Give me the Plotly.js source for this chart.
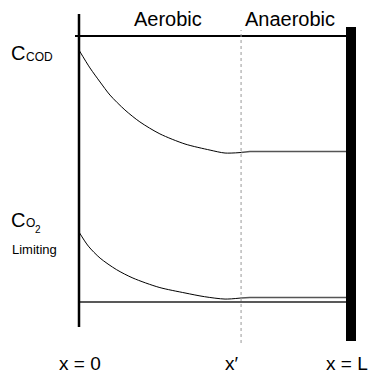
<!DOCTYPE html>
<html>
<head>
<meta charset="utf-8">
<script src="https://cdn.plot.ly/plotly-3.0.1.min.js"></script>
<style>html,body{margin:0;padding:0;background:#fff;}#chart{width:370px;height:373px;}</style>
</head>
<body>
<div id="chart"></div>
<script>
// Position along the column (0 = inlet, 1 = L) and normalised concentrations
const xPrime = 0.607;
const xCOD = [0, 0.041, 0.079, 0.116, 0.172, 0.228, 0.303, 0.397, 0.491, 0.547, 0.607];
const cCOD = [0.947, 0.88, 0.827, 0.778, 0.722, 0.677, 0.632, 0.594, 0.571, 0.56, 0.562];
const xCODAnaerobic = [0.607, 0.64, 1];
const cCODAnaerobic = [0.562, 0.566, 0.566];
const xO2 = [0, 0.035, 0.079, 0.14, 0.202, 0.3, 0.397, 0.47, 0.547, 0.607];
const cO2 = [0.263, 0.21, 0.165, 0.122, 0.09, 0.055, 0.034, 0.02, 0.011, 0.015];
const xO2Anaerobic = [0.607, 0.64, 1];
const cO2Anaerobic = [0.015, 0.017, 0.017];
const xBase = [0, 1];
const cBase = [0, 0];

const W = 370, H = 373;
const px0 = 79, pxL = 346, py0 = 302, py1 = 36;
const sx = pxL - px0, sy = py0 - py1;
const xr = [-px0 / sx, (W - px0) / sx];
const yr = [-(H - py0) / sy, py0 / sy];
const X = p => (p - px0) / sx;
const Y = p => (py0 - p) / sy;
const font = 'Liberation Sans, Arial, sans-serif';

const traces = [
  {x: xCOD, y: cCOD, mode: 'lines', line: {color: '#000', width: 1, shape: 'spline', smoothing: 0.8}},
  {x: xCODAnaerobic, y: cCODAnaerobic, mode: 'lines', line: {color: '#555', width: 1.5}},
  {x: xO2, y: cO2, mode: 'lines', line: {color: '#000', width: 1, shape: 'spline', smoothing: 0.8}},
  {x: xO2Anaerobic, y: cO2Anaerobic, mode: 'lines', line: {color: '#555', width: 1.5}},
  {x: xBase, y: cBase, mode: 'lines', line: {color: '#222', width: 1.5}}
];

const shapes = [
  {type: 'line', x0: 0, x1: 0, y0: Y(327), y1: Y(14), line: {color: '#000', width: 2.5}},
  {type: 'line', x0: X(75), x1: 1, y0: 1, y1: 1, line: {color: '#000', width: 2}},
  {type: 'rect', x0: 1, x1: X(356), y0: Y(341), y1: Y(27), fillcolor: '#000', line: {width: 0}},
  {type: 'line', x0: xPrime, x1: xPrime, y0: Y(343), y1: Y(30), line: {color: '#999', width: 1, dash: 'dot'}}
];

function ann(text, px, py, size, anchor) {
  return {text: text, xref: 'paper', yref: 'paper', x: px / W, y: 1 - py / H,
    xanchor: anchor || 'center', yanchor: 'middle', showarrow: false,
    font: {family: font, size: size, color: '#000'}};
}
const annotations = [
  ann('Aerobic', 168, 19, 20),
  ann('Anaerobic', 290, 19, 20),
  ann('C', 9, 53, 20, 'left'),
  ann('COD', 24, 57, 12, 'left'),
  ann('C', 9, 220, 20, 'left'),
  ann('O', 24, 223, 12, 'left'),
  ann('2', 33, 229, 10, 'left'),
  ann('Limiting', 10, 249, 13, 'left'),
  ann('x = 0', 80, 363, 19),
  ann('x\u2032', 232, 363, 19),
  ann('x = L', 347, 363, 19)
];

const layout = {
  width: W, height: H, margin: {l: 0, r: 0, t: 0, b: 0},
  paper_bgcolor: '#fff', plot_bgcolor: '#fff', showlegend: false,
  xaxis: {range: xr, visible: false, fixedrange: true},
  yaxis: {range: yr, visible: false, fixedrange: true},
  shapes: shapes, annotations: annotations
};
Plotly.newPlot('chart', traces, layout, {displayModeBar: false, staticPlot: true});
</script>
</body>
</html>
